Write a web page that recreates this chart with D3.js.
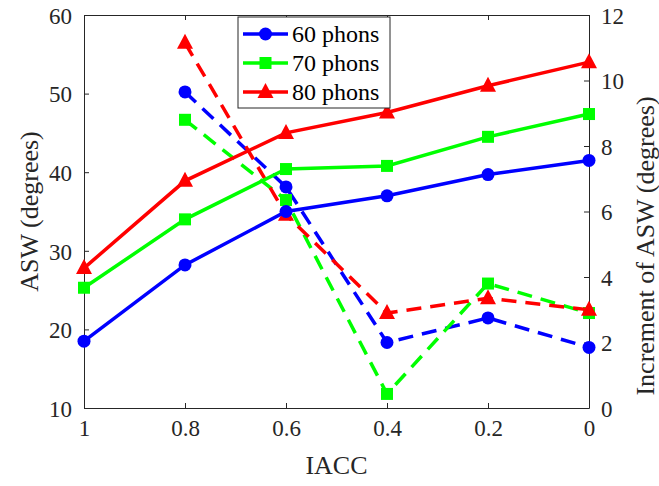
<!DOCTYPE html>
<html>
<head>
<meta charset="utf-8">
<script src="https://d3js.org/d3.v7.min.js"></script>
</head>
<body style="margin:0">
<script>
// IACC values on the x axis (reversed: 1 on the left, 0 on the right)
var iacc = [1, 0.8, 0.6, 0.4, 0.2, 0];
var seriesNames = ["60 phons", "70 phons", "80 phons"];
var colors = ["#0000ff", "#00ff00", "#ff0000"];

// ASW (degrees), left axis, solid lines
var asw60 = [18.5, 28.2, 35.0, 37.0, 39.7, 41.5];
var asw70 = [25.3, 34.0, 40.4, 40.8, 44.5, 47.4];
var asw80 = [27.8, 38.9, 45.0, 47.6, 51.0, 54.0];

// Increment of ASW (degrees), right axis, dashed lines (from 0.8 on)
var incIacc = [0.8, 0.6, 0.4, 0.2, 0];
var inc60 = [9.65, 6.75, 2.0, 2.75, 1.85];
var inc70 = [8.8, 6.35, 0.43, 3.8, 2.9];
var inc80 = [11.15, 5.9, 2.9, 3.35, 3.0];

var leftTicks = [10, 20, 30, 40, 50, 60];
var rightTicks = [0, 2, 4, 6, 8, 10, 12];

var width = 659, height = 486;
var left = 84, right = 589, top_ = 15, bottom = 408;
var axisColor = "#262626";

var svg = d3.select("body").append("svg").attr("width", width).attr("height", height);

var xScale = d3.scaleLinear().domain([1, 0]).range([left, right]);
var yLeft = d3.scaleLinear().domain([10, 60]).range([bottom, top_]);
var yRight = d3.scaleLinear().domain([0, 12]).range([bottom, top_]);

// axes, MATLAB look: inward ticks and a closed box
var gx = svg.append("g").attr("transform", "translate(0," + bottom + ")")
  .call(d3.axisBottom(xScale).tickValues(iacc).tickSizeInner(-5).tickSizeOuter(0).tickPadding(12).tickFormat(d3.format("")));
var gxt = svg.append("g").attr("transform", "translate(0," + top_ + ")")
  .call(d3.axisTop(xScale).tickValues(iacc).tickSizeInner(-5).tickSizeOuter(0).tickFormat(""));
var gl = svg.append("g").attr("transform", "translate(" + left + ",0)")
  .call(d3.axisLeft(yLeft).tickValues(leftTicks).tickSizeInner(-5).tickSizeOuter(0).tickPadding(12));
var gr = svg.append("g").attr("transform", "translate(" + right + ",0)")
  .call(d3.axisRight(yRight).tickValues(rightTicks).tickSizeInner(-5).tickSizeOuter(0).tickPadding(12));

[gx, gxt, gl, gr].forEach(function(g) {
  g.attr("font-family", null).attr("font-size", null);
  g.selectAll("path").attr("stroke", axisColor).attr("stroke-width", 1);
  g.selectAll("line").attr("stroke", axisColor).attr("stroke-width", 1);
  g.selectAll("text").attr("font-family", "Liberation Serif").attr("font-size", 23).attr("fill", axisColor);
});
gl.selectAll("text").attr("dy", "0.36em");
gr.selectAll("text").attr("dy", "0.36em");

// axis titles
svg.append("text").attr("x", (left + right) / 2).attr("y", 474).attr("text-anchor", "middle")
  .attr("font-family", "Liberation Serif").attr("font-size", 26).attr("fill", axisColor).text("IACC");
svg.append("text").attr("transform", "translate(38," + ((top_ + bottom) / 2) + ") rotate(-90)")
  .attr("text-anchor", "middle")
  .attr("font-family", "Liberation Serif").attr("font-size", 26).attr("fill", axisColor).text("ASW (degrees)");
svg.append("text").attr("transform", "translate(654,246) rotate(-90)")
  .attr("text-anchor", "middle")
  .attr("font-family", "Liberation Serif").attr("font-size", 26).attr("fill", axisColor).text("Increment of ASW (degrees)");

function marker(g, kind, cx, cy, color) {
  if (kind === 0) {
    g.append("circle").attr("cx", cx).attr("cy", cy).attr("r", 6.5).attr("fill", color);
  } else if (kind === 1) {
    g.append("rect").attr("x", cx - 6).attr("y", cy - 6).attr("width", 12).attr("height", 12).attr("fill", color);
  } else {
    g.append("path").attr("d", "M" + cx + "," + (cy - 9) + "L" + (cx + 8) + "," + (cy + 6) + "L" + (cx - 8) + "," + (cy + 6) + "Z")
      .attr("fill", color);
  }
}

var solid = [asw60, asw70, asw80];
var dashed = [inc60, inc70, inc80];
var lineGen = d3.line();

// dashed lines, right axis
dashed.forEach(function(vals, i) {
  var g = svg.append("g");
  var pts = incIacc.map(function(v, j) { return [xScale(v), yRight(vals[j])]; });
  g.append("path").attr("d", lineGen(pts)).attr("fill", "none")
    .attr("stroke", colors[i]).attr("stroke-width", 3.5).attr("stroke-dasharray", "15,9");
  pts.forEach(function(p) { marker(g, i, p[0], p[1], colors[i]); });
});

// solid lines, left axis
solid.forEach(function(vals, i) {
  var g = svg.append("g");
  var pts = iacc.map(function(v, j) { return [xScale(v), yLeft(vals[j])]; });
  g.append("path").attr("d", lineGen(pts)).attr("fill", "none")
    .attr("stroke", colors[i]).attr("stroke-width", 3.5);
  pts.forEach(function(p) { marker(g, i, p[0], p[1], colors[i]); });
});

// legend
var lg = svg.append("g").attr("transform", "translate(238,17)");
lg.append("rect").attr("width", 152).attr("height", 91).attr("fill", "#fff")
  .attr("stroke", axisColor).attr("stroke-width", 1);
seriesNames.forEach(function(name, i) {
  var cy = 17 + i * 29;
  lg.append("line").attr("x1", 5).attr("x2", 50).attr("y1", cy).attr("y2", cy)
    .attr("stroke", colors[i]).attr("stroke-width", 3.5);
  marker(lg, i, 27.5, cy, colors[i]);
  lg.append("text").attr("x", 54).attr("y", cy + 8)
    .attr("font-family", "Liberation Serif").attr("font-size", 24).attr("fill", "#000").text(name);
});
</script>
</body>
</html>
